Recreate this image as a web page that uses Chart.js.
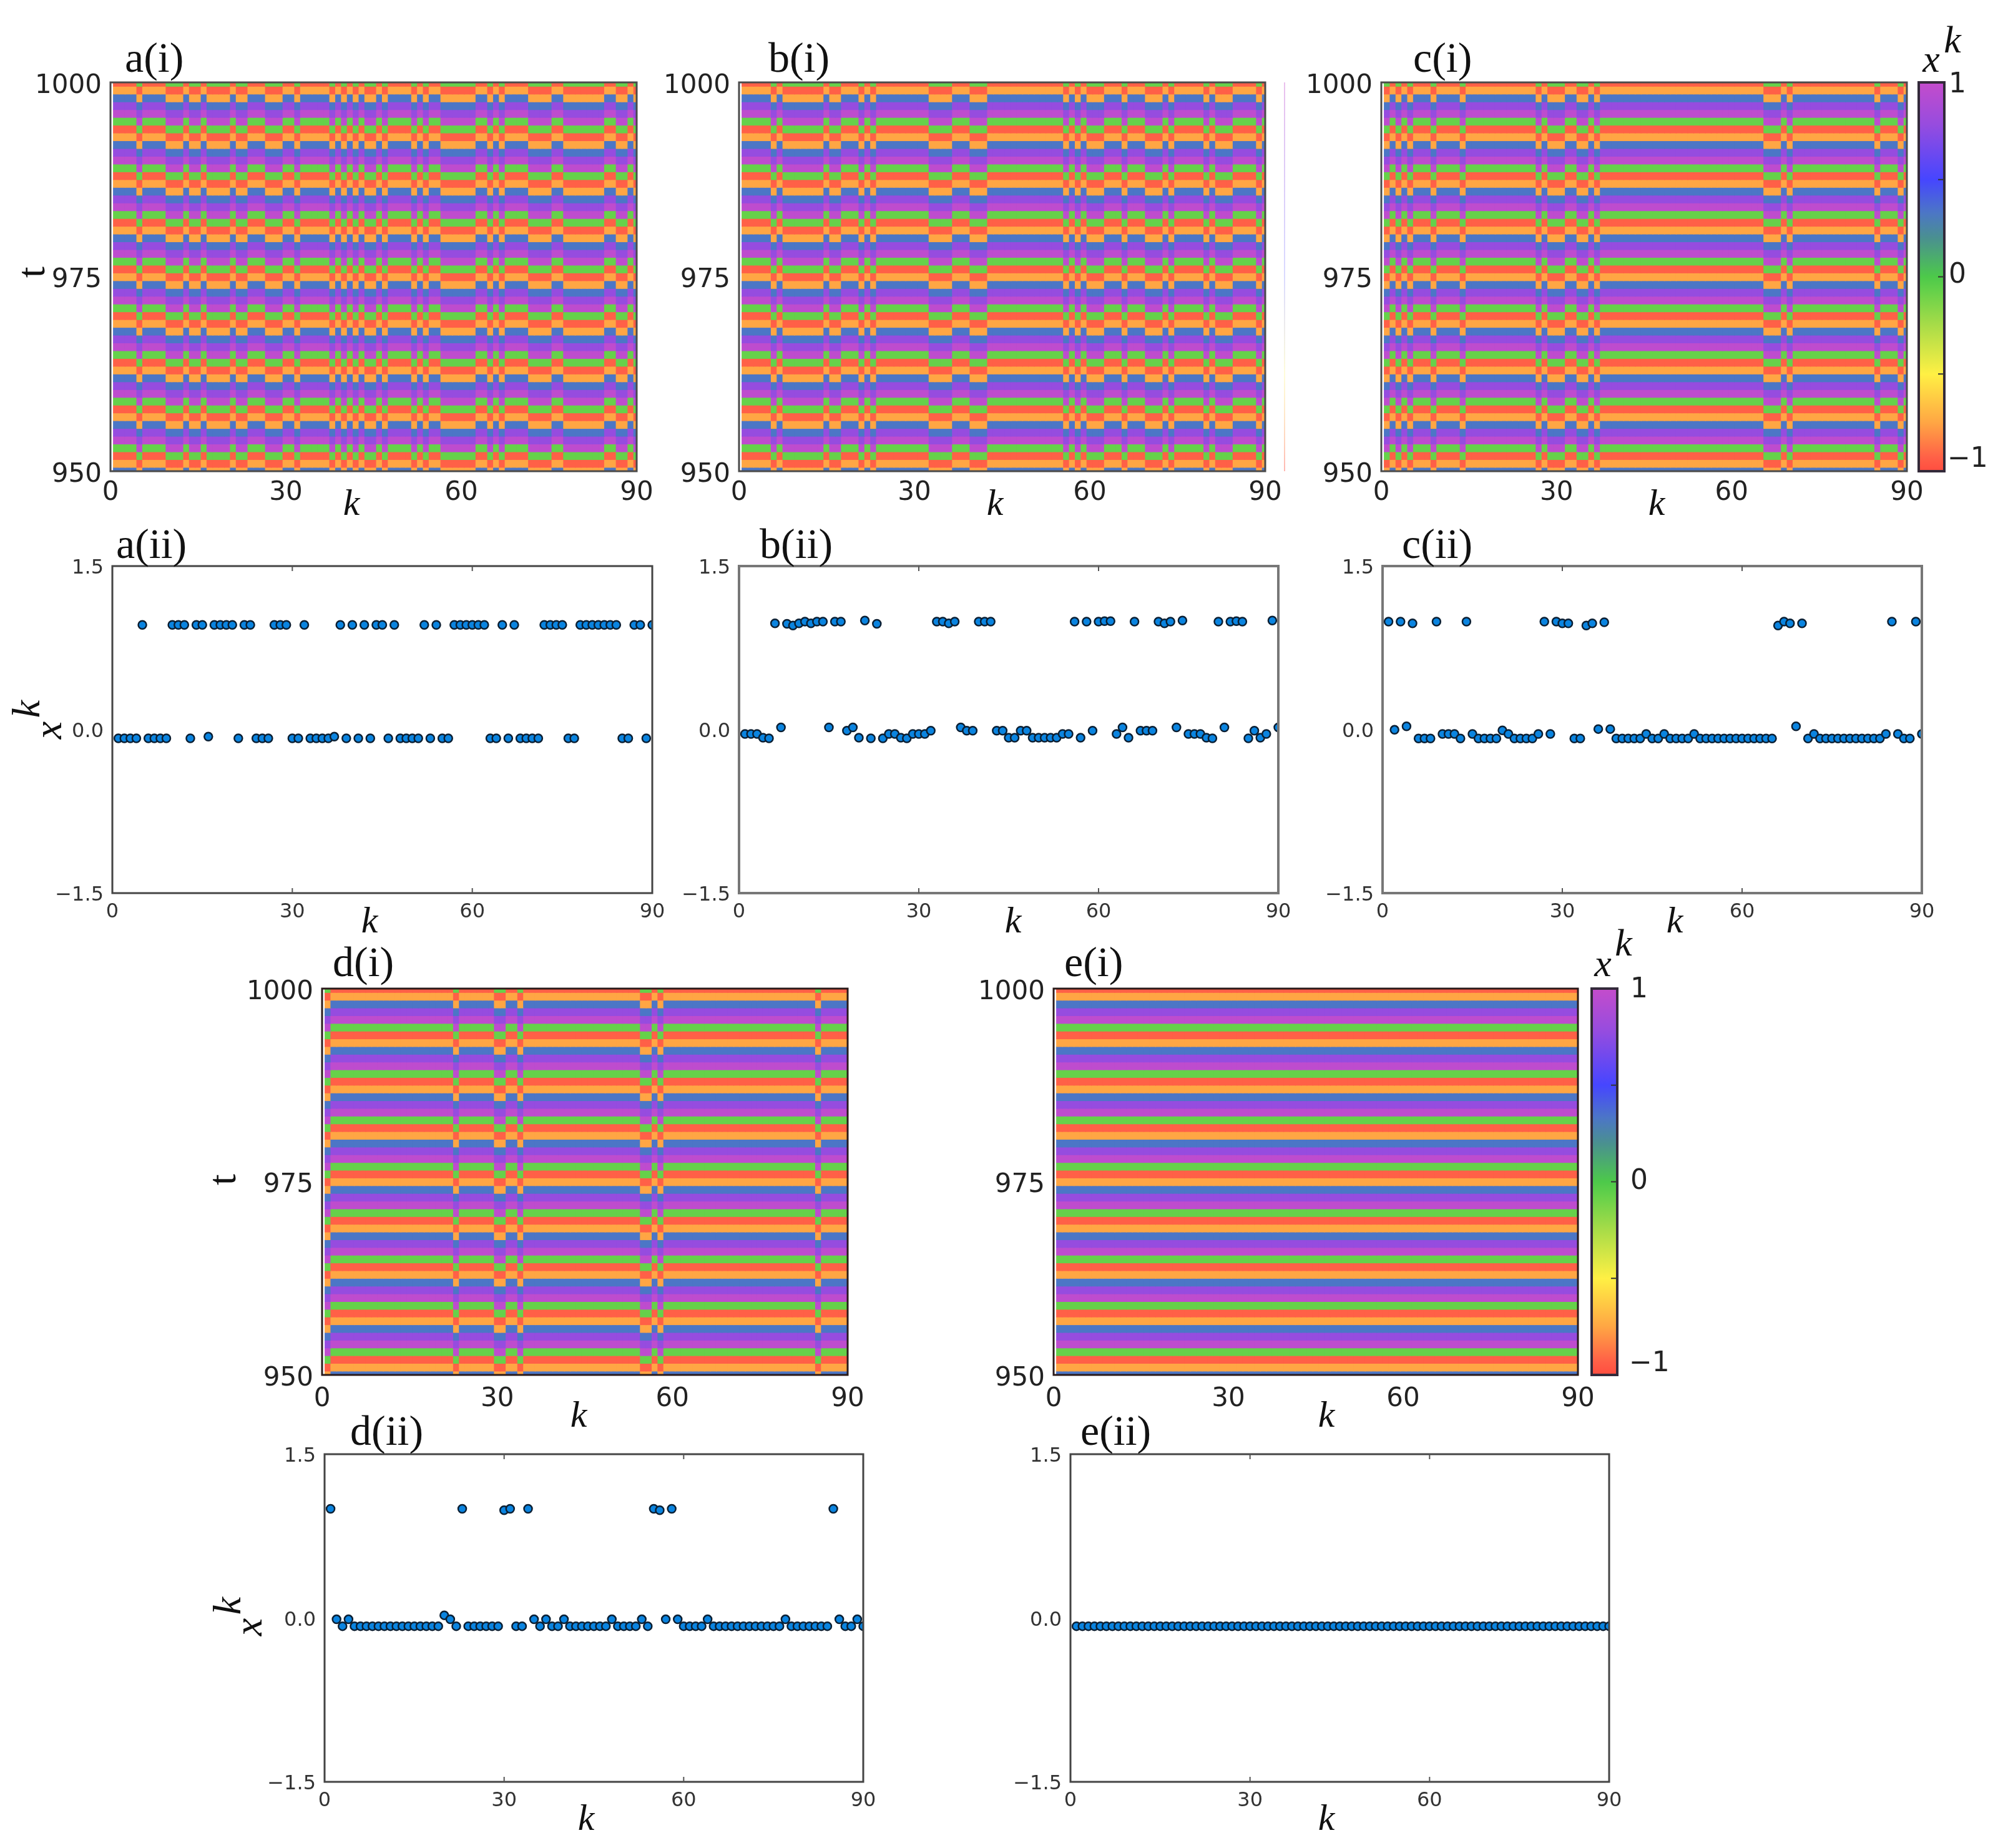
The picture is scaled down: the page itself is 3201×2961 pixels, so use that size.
<!DOCTYPE html>
<html>
<head>
<meta charset="utf-8">
<title>Chart</title>
<script src="https://cdn.jsdelivr.net/npm/chart.js@4"></script>
<style>
html,body{margin:0;padding:0;background:#fff;}
#stage{position:relative;width:3201px;height:2961px;overflow:hidden;background:#fff;}
canvas{position:absolute;filter:blur(0.7px);}
</style>
</head>
<body>
<div id="stage"></div>
<script>
// ---------- data ----------
const xTicks = [0, 30, 60, 90];
const heatTicks = [950, 975, 1000];
const lineTicks = [-1.5, 0, 1.5];
const barTicks = [-1, 0, 1];

// one period of the time series (k-th oscillator), from t = 1000 downwards
const cycleValues = [-0.93, -0.75, 0.33, 0.78, 0.97, -0.075];
const timeRows = [1000,999,998,997,996,995,994,993,992,991,990,989,988,987,986,985,984,983,982,981,980,979,978,977,976,975,974,973,972,971,970,969,968,967,966,965,964,963,962,961,960,959,958,957,956,955,954,953,952,951,950];

// colour map: value stops and their colours
const mapStops = [-1, -0.93, -0.75, -0.5, -0.25, -0.075, 0, 0.2, 0.33, 0.5, 0.78, 0.97, 1];
const mapColours = ['#ff4d40','#ff6047','#ffa644','#fff044','#a8dc48','#66d14a','#4dc94a','#4a9090','#4c76c6','#4646ff','#964cdf','#be4cce','#c44ccc'];

// snapshot values x^k for k = 1..90
const valuesA = [-0.08,-0.08,-0.08,-0.08,0.96,-0.08,-0.08,-0.08,-0.08,0.96,
0.96,0.96,-0.08,0.96,0.96,-0.065,0.96,0.96,0.96,0.96,
-0.08,0.96,0.96,-0.08,-0.08,-0.08,0.96,0.96,0.96,-0.08,
-0.08,0.96,-0.08,-0.08,-0.08,-0.08,-0.065,0.96,-0.08,0.96,
-0.08,0.96,-0.08,0.96,0.96,-0.08,0.96,-0.08,-0.08,-0.08,
-0.08,0.96,-0.08,0.96,-0.08,-0.08,0.96,0.96,0.96,0.96,
0.96,0.96,-0.08,-0.08,0.96,-0.08,0.96,-0.08,-0.08,-0.08,
-0.08,0.96,0.96,0.96,0.96,-0.08,-0.08,0.96,0.96,0.96,
0.96,0.96,0.96,0.96,-0.08,-0.08,0.96,0.96,-0.08,0.96];
const valuesB = [-0.04,-0.04,-0.04,-0.075,-0.08,0.975,0.02,0.97,0.955,0.975,
0.99,0.975,0.99,0.99,0.02,0.99,0.99,-0.01,0.02,-0.075,
1.0,-0.08,0.97,-0.08,-0.04,-0.04,-0.075,-0.08,-0.04,-0.04,
-0.04,-0.01,0.99,0.99,0.975,0.99,0.02,-0.01,-0.01,0.99,
0.99,0.99,-0.01,-0.01,-0.075,-0.075,-0.01,-0.01,-0.075,-0.075,
-0.075,-0.075,-0.075,-0.04,-0.04,0.99,-0.075,0.99,-0.01,0.99,
0.995,0.995,-0.04,0.02,-0.075,0.99,-0.01,-0.01,-0.01,0.99,
0.975,0.99,0.02,1.0,-0.04,-0.04,-0.04,-0.075,-0.08,0.99,
0.02,0.99,0.995,0.99,-0.08,-0.01,-0.075,-0.04,1.0,0.02];
const valuesC = [0.99,-0.002,0.99,0.03,0.975,-0.082,-0.082,-0.082,0.99,-0.04,
-0.04,-0.04,-0.082,0.99,-0.04,-0.082,-0.082,-0.082,-0.082,-0.007,
-0.04,-0.082,-0.082,-0.082,-0.082,-0.04,0.99,-0.04,0.99,0.975,
0.975,-0.082,-0.082,0.955,0.975,0.005,0.985,0.005,-0.082,-0.082,
-0.082,-0.082,-0.082,-0.04,-0.082,-0.082,-0.04,-0.082,-0.082,-0.082,
-0.082,-0.04,-0.082,-0.082,-0.082,-0.082,-0.082,-0.082,-0.082,-0.082,
-0.082,-0.082,-0.082,-0.082,-0.082,0.955,0.99,0.975,0.03,0.975,
-0.082,-0.04,-0.082,-0.082,-0.082,-0.082,-0.082,-0.082,-0.082,-0.082,
-0.082,-0.082,-0.082,-0.04,0.99,-0.04,-0.082,-0.082,0.99,-0.04];
const valuesD = [1.0,-0.012,-0.075,-0.012,-0.075,-0.075,-0.075,-0.075,-0.075,-0.075,
-0.075,-0.075,-0.075,-0.075,-0.075,-0.075,-0.075,-0.075,-0.075,0.025,
-0.012,-0.075,1.0,-0.075,-0.075,-0.075,-0.075,-0.075,-0.075,0.987,
1.0,-0.075,-0.075,1.0,-0.012,-0.075,-0.012,-0.075,-0.075,-0.012,
-0.075,-0.075,-0.075,-0.075,-0.075,-0.075,-0.075,-0.012,-0.075,-0.075,
-0.075,-0.075,-0.012,-0.075,1.0,0.987,-0.012,1.0,-0.012,-0.075,
-0.075,-0.075,-0.075,-0.012,-0.075,-0.075,-0.075,-0.075,-0.075,-0.075,
-0.075,-0.075,-0.075,-0.075,-0.075,-0.075,-0.012,-0.075,-0.075,-0.075,
-0.075,-0.075,-0.075,-0.075,1.0,-0.012,-0.075,-0.075,-0.012,-0.075];
const valuesE = [-0.075,-0.075,-0.075,-0.075,-0.075,-0.075,-0.075,-0.075,-0.075,-0.075,
-0.075,-0.075,-0.075,-0.075,-0.075,-0.075,-0.075,-0.075,-0.075,-0.075,
-0.075,-0.075,-0.075,-0.075,-0.075,-0.075,-0.075,-0.075,-0.075,-0.075,
-0.075,-0.075,-0.075,-0.075,-0.075,-0.075,-0.075,-0.075,-0.075,-0.075,
-0.075,-0.075,-0.075,-0.075,-0.075,-0.075,-0.075,-0.075,-0.075,-0.075,
-0.075,-0.075,-0.075,-0.075,-0.075,-0.075,-0.075,-0.075,-0.075,-0.075,
-0.075,-0.075,-0.075,-0.075,-0.075,-0.075,-0.075,-0.075,-0.075,-0.075,
-0.075,-0.075,-0.075,-0.075,-0.075,-0.075,-0.075,-0.075,-0.075,-0.075,
-0.075,-0.075,-0.075,-0.075,-0.075,-0.075,-0.075,-0.075,-0.075,-0.075];

// ---------- helpers ----------
const SANS = '"DejaVu Sans", sans-serif';
const SERIF = '"Liberation Serif", serif';
const stage = document.getElementById('stage');
const MARGIN = {l:190, t:120, r:70, b:110};

function hex(c){return [1,3,5].map(i=>parseInt(c.substr(i,2),16));}
function colourOf(v){
  let i=0; while(i<mapStops.length-2 && v>mapStops[i+1]) i++;
  const f=Math.max(0,Math.min(1,(v-mapStops[i])/(mapStops[i+1]-mapStops[i])));
  const a=hex(mapColours[i]), b=hex(mapColours[i+1]);
  return 'rgb('+a.map((x,j)=>Math.round(x+(b[j]-x)*f)).join(',')+')';
}
function newCanvas(fr, m){
  const c=document.createElement('canvas');
  const w=fr.x1-fr.x0+m.l+m.r, h=fr.y1-fr.y0+m.t+m.b;
  c.width=w; c.height=h;
  c.style.left=(fr.x0-m.l)+'px'; c.style.top=(fr.y0-m.t)+'px';
  c.style.width=w+'px'; c.style.height=h+'px';
  stage.appendChild(c);
  return c;
}
function decorPlugin(fr, m, deco){
  return {
    id:'decor',
    afterDraw(chart){
      const ctx=chart.ctx, A=chart.chartArea, ox=fr.x0-m.l, oy=fr.y0-m.t;
      ctx.save();
      // frame
      ctx.strokeStyle=deco.frame||'#444'; ctx.lineWidth=deco.frameWidth||3;
      ctx.strokeRect(A.left,A.top,A.right-A.left,A.bottom-A.top);
      // inward ticks
      if(deco.innerX){
        ctx.lineWidth=2; ctx.strokeStyle='#555';
        deco.innerX.forEach(v=>{
          const x=chart.scales.x.getPixelForValue(v);
          ctx.beginPath();ctx.moveTo(x,A.top);ctx.lineTo(x,A.top+8);ctx.moveTo(x,A.bottom);ctx.lineTo(x,A.bottom-8);ctx.stroke();
        });
      }
      if(deco.innerY){
        ctx.lineWidth=2; ctx.strokeStyle=deco.innerYColour||'#333';
        deco.innerY.forEach(v=>{
          const y=chart.scales.y.getPixelForValue(v);
          ctx.beginPath();ctx.moveTo(A.right,y);ctx.lineTo(A.right-10,y);ctx.stroke();
        });
      }
      // faint leftover stripe next to b(i)
      if(deco.ghost){
        const g=ctx.createLinearGradient(0,A.top,0,A.bottom);
        g.addColorStop(0,'rgba(196,76,204,0.35)');g.addColorStop(0.5,'rgba(70,70,255,0.2)');
        g.addColorStop(0.75,'rgba(255,240,68,0.2)');g.addColorStop(1,'rgba(255,77,64,0.4)');
        ctx.fillStyle=g; ctx.fillRect(deco.ghost-ox,A.top,2,A.bottom-A.top);
      }
      ctx.fillStyle='#111'; ctx.textAlign='left'; ctx.textBaseline='alphabetic';
      (deco.texts||[]).forEach(t=>{
        ctx.save();
        ctx.font=t.font;
        ctx.fillStyle=t.colour||'#111';
        ctx.textAlign=t.align||'left';
        ctx.textBaseline=t.base||'alphabetic';
        ctx.translate(t.x-ox,t.y-oy);
        if(t.rot) ctx.rotate(t.rot);
        ctx.fillText(t.s,0,0);
        ctx.restore();
      });
      ctx.restore();
    }
  };
}
const TITLE='italic 60px '+SERIF, PANEL='68px '+SERIF;
function axisK(x,y){return {s:'k',x:x,y:y,font:TITLE,align:'center'};}
function panelName(s,x,y){return {s:s,x:x,y:y,font:PANEL};}
function rotT(x,y){return {s:'t',x:x,y:y,font:'64px '+SERIF,align:'center',base:'middle',rot:-Math.PI/2};}
function rotXK(x,y,kx,ky){return [
  {s:'x',x:x,y:y,font:'italic 64px '+SERIF,align:'center',base:'middle',rot:-Math.PI/2},
  {s:'k',x:kx,y:ky,font:'italic 64px '+SERIF,align:'center',base:'middle',rot:-Math.PI/2}];}
function barTitle(x,y,kx,ky){return [
  {s:'x',x:x,y:y,font:'italic 62px '+SERIF,align:'center',base:'middle'},
  {s:'k',x:kx,y:ky,font:'italic 62px '+SERIF,align:'center',base:'middle'}];}
function barLabels(x,y1,y0,ym){
  const f='44px "DejaVu Sans"';
  return [
    {s:String(barTicks[2]),x:x,y:y1,font:f,base:'middle',colour:'#222'},
    {s:String(barTicks[1]),x:x,y:y0,font:f,base:'middle',colour:'#222'},
    {s:String(barTicks[0]).replace('-','\u2212'),x:x-2,y:ym,font:f,base:'middle',colour:'#222'}];
}

function axes(fr,m,o){
  return {
    x:{type:'linear',offset:false,min:0,max:90,grid:{display:false},border:{display:false},
       afterBuildTicks:s=>{s.ticks=xTicks.map(v=>({value:v}));},
       afterFit:s=>{s.height=m.b;},
       ticks:{autoSkip:false,maxRotation:0,padding:o.xPad,color:o.colour,font:{family:'DejaVu Sans',size:o.size},callback:v=>String(v)}},
    y:{type:'linear',min:o.ymin,max:o.ymax,grid:{display:false},border:{display:false},
       afterBuildTicks:s=>{s.ticks=o.yTicks.map(v=>({value:v}));},
       afterFit:s=>{s.width=m.l;},
       ticks:{autoSkip:false,maxRotation:0,padding:o.yPad,labelOffset:o.yShift,color:o.colour,font:{family:'DejaVu Sans',size:o.size},callback:o.yFmt}}
  };
}

function heatPanel(fr,values,deco){
  const m=MARGIN;
  const datasets=timeRows.map(t=>{
    const r=(1000-t)%6, cols=[], pts=[];
    values.forEach((v,i)=>{
      const shifted=v>0.5;
      cols.push(colourOf(cycleValues[shifted?(r+5)%6:r]));
      pts.push({x:i+1,y:[t-0.5,t+0.5]});
    });
    return {data:pts,backgroundColor:cols,borderWidth:0,inflateAmount:0.6,clip:0,
            barPercentage:1,categoryPercentage:1,grouped:false};
  });
  new Chart(newCanvas(fr,m),{
    type:'bar',
    data:{datasets},
    options:{responsive:false,animation:false,events:[],devicePixelRatio:1,
      layout:{padding:{top:m.t,right:m.r,left:0,bottom:0}},
      plugins:{legend:{display:false},tooltip:{enabled:false}},
      scales:axes(fr,m,{xPad:deco.xPad,yPad:6,yShift:6,colour:'#222',size:42,ymin:950,ymax:1000,yTicks:heatTicks,yFmt:v=>String(v)})},
    plugins:[decorPlugin(fr,m,deco)]
  });
}
function linePanel(fr,values,deco){
  const m=MARGIN;
  new Chart(newCanvas(fr,m),{
    type:'scatter',
    data:{datasets:[{data:values.map((v,i)=>({x:i+1,y:v})),
      pointRadius:6.5,pointBorderWidth:2.5,pointBackgroundColor:'#0a84e0',pointBorderColor:'#0b1f33',clip:0}]},
    options:{responsive:false,animation:false,events:[],devicePixelRatio:1,
      layout:{padding:{top:m.t,right:m.r,left:0,bottom:0}},
      plugins:{legend:{display:false},tooltip:{enabled:false}},
      scales:axes(fr,m,{xPad:3,yPad:6,yShift:4,colour:'#333',size:32,ymin:-1.5,ymax:1.5,yTicks:lineTicks,
        yFmt:v=>v.toFixed(1).replace('-','\u2212')})},
    plugins:[decorPlugin(fr,m,Object.assign({innerX:[30,60]},deco))]
  });
}
function colourBar(fr,deco){
  const m={l:10,t:120,r:86,b:10};
  new Chart(newCanvas(fr,m),{
    type:'bar',
    data:{labels:['x'],datasets:[{data:[[barTicks[0],barTicks[2]]],borderWidth:0,inflateAmount:0,clip:0,
      barPercentage:1,categoryPercentage:1,
      backgroundColor(c){
        const area=c.chart.chartArea, sc=c.chart.scales.y;
        if(!area) return mapColours[0];
        const g=c.chart.ctx.createLinearGradient(0,sc.getPixelForValue(-1),0,sc.getPixelForValue(1));
        mapStops.forEach((s,i)=>g.addColorStop((s+1)/2,mapColours[i]));
        return g;
      }}]},
    options:{responsive:false,animation:false,events:[],devicePixelRatio:1,
      layout:{padding:{top:m.t,right:0,left:m.l,bottom:m.b}},
      plugins:{legend:{display:false},tooltip:{enabled:false}},
      scales:{
        x:{display:false,offset:true},
        y:{position:'right',min:-1,max:1,grid:{display:false},border:{display:false},
           afterFit:s=>{s.width=m.r;},
           ticks:{display:false}}
      }},
    plugins:[decorPlugin(fr,m,Object.assign({frame:'#332a3a',frameWidth:4,innerY:[-0.5,0,0.5]},deco))]
  });
}

// ---------- layout (page pixels) ----------
const yTop={y0:132,y1:755}, yMid={y0:907,y1:1431}, yLow={y0:1584,y1:2203}, yBot={y0:2330,y1:2855};

heatPanel({x0:177,x1:1020,...yTop},valuesA,{frame:'#4a4a4a',xPad:2,
  texts:[panelName('a(i)',200,115),axisK(563,825),rotT(54,436)]});
heatPanel({x0:1184,x1:2027,...yTop},valuesB,{frame:'#4a4a4a',ghost:2057,xPad:2,
  texts:[panelName('b(i)',1231,115),axisK(1594,825)]});
heatPanel({x0:2213,x1:3055,...yTop},valuesC,{frame:'#4a4a4a',xPad:2,
  texts:[panelName('c(i)',2264,115),axisK(2654,825)]});
colourBar({x0:3074,x1:3115,...yTop},{texts:[...barTitle(3094,99,3128,68),...barLabels(3122,137,442,737)]});

linePanel({x0:180,x1:1045,...yMid},valuesA,{frame:'#444',
  texts:[panelName('a(ii)',186,894),axisK(592,1494),...rotXK(81,1170,46,1136)]});
linePanel({x0:1184,x1:2048,...yMid},valuesB,{frame:'#777',frameWidth:4,
  texts:[panelName('b(ii)',1217,894),axisK(1623,1494)]});
linePanel({x0:2215,x1:3079,...yMid},valuesC,{frame:'#777',frameWidth:4,
  texts:[panelName('c(ii)',2246,894),axisK(2683,1494)]});

heatPanel({x0:516,x1:1358,...yLow},valuesD,{frame:'#2a1a1a',xPad:6,
  texts:[panelName('d(i)',533,1564),axisK(927,2286),rotT(360,1890)]});
heatPanel({x0:1688,x1:2528,...yLow},valuesE,{frame:'#2a1a1a',xPad:6,
  texts:[panelName('e(i)',1705,1564),axisK(2125,2286)]});
colourBar({x0:2550,x1:2591,...yLow},{texts:[...barTitle(2568,1548,2601,1515),...barLabels(2612,1587,1894,2186)]});

linePanel({x0:520,x1:1383,...yBot},valuesD,{frame:'#444',
  texts:[panelName('d(ii)',561,2315),axisK(939,2932),...rotXK(402,2607,368,2573)]});
linePanel({x0:1715,x1:2578,...yBot},valuesE,{frame:'#444',
  texts:[panelName('e(ii)',1731,2315),axisK(2125,2932)]});
</script>
</body>
</html>
